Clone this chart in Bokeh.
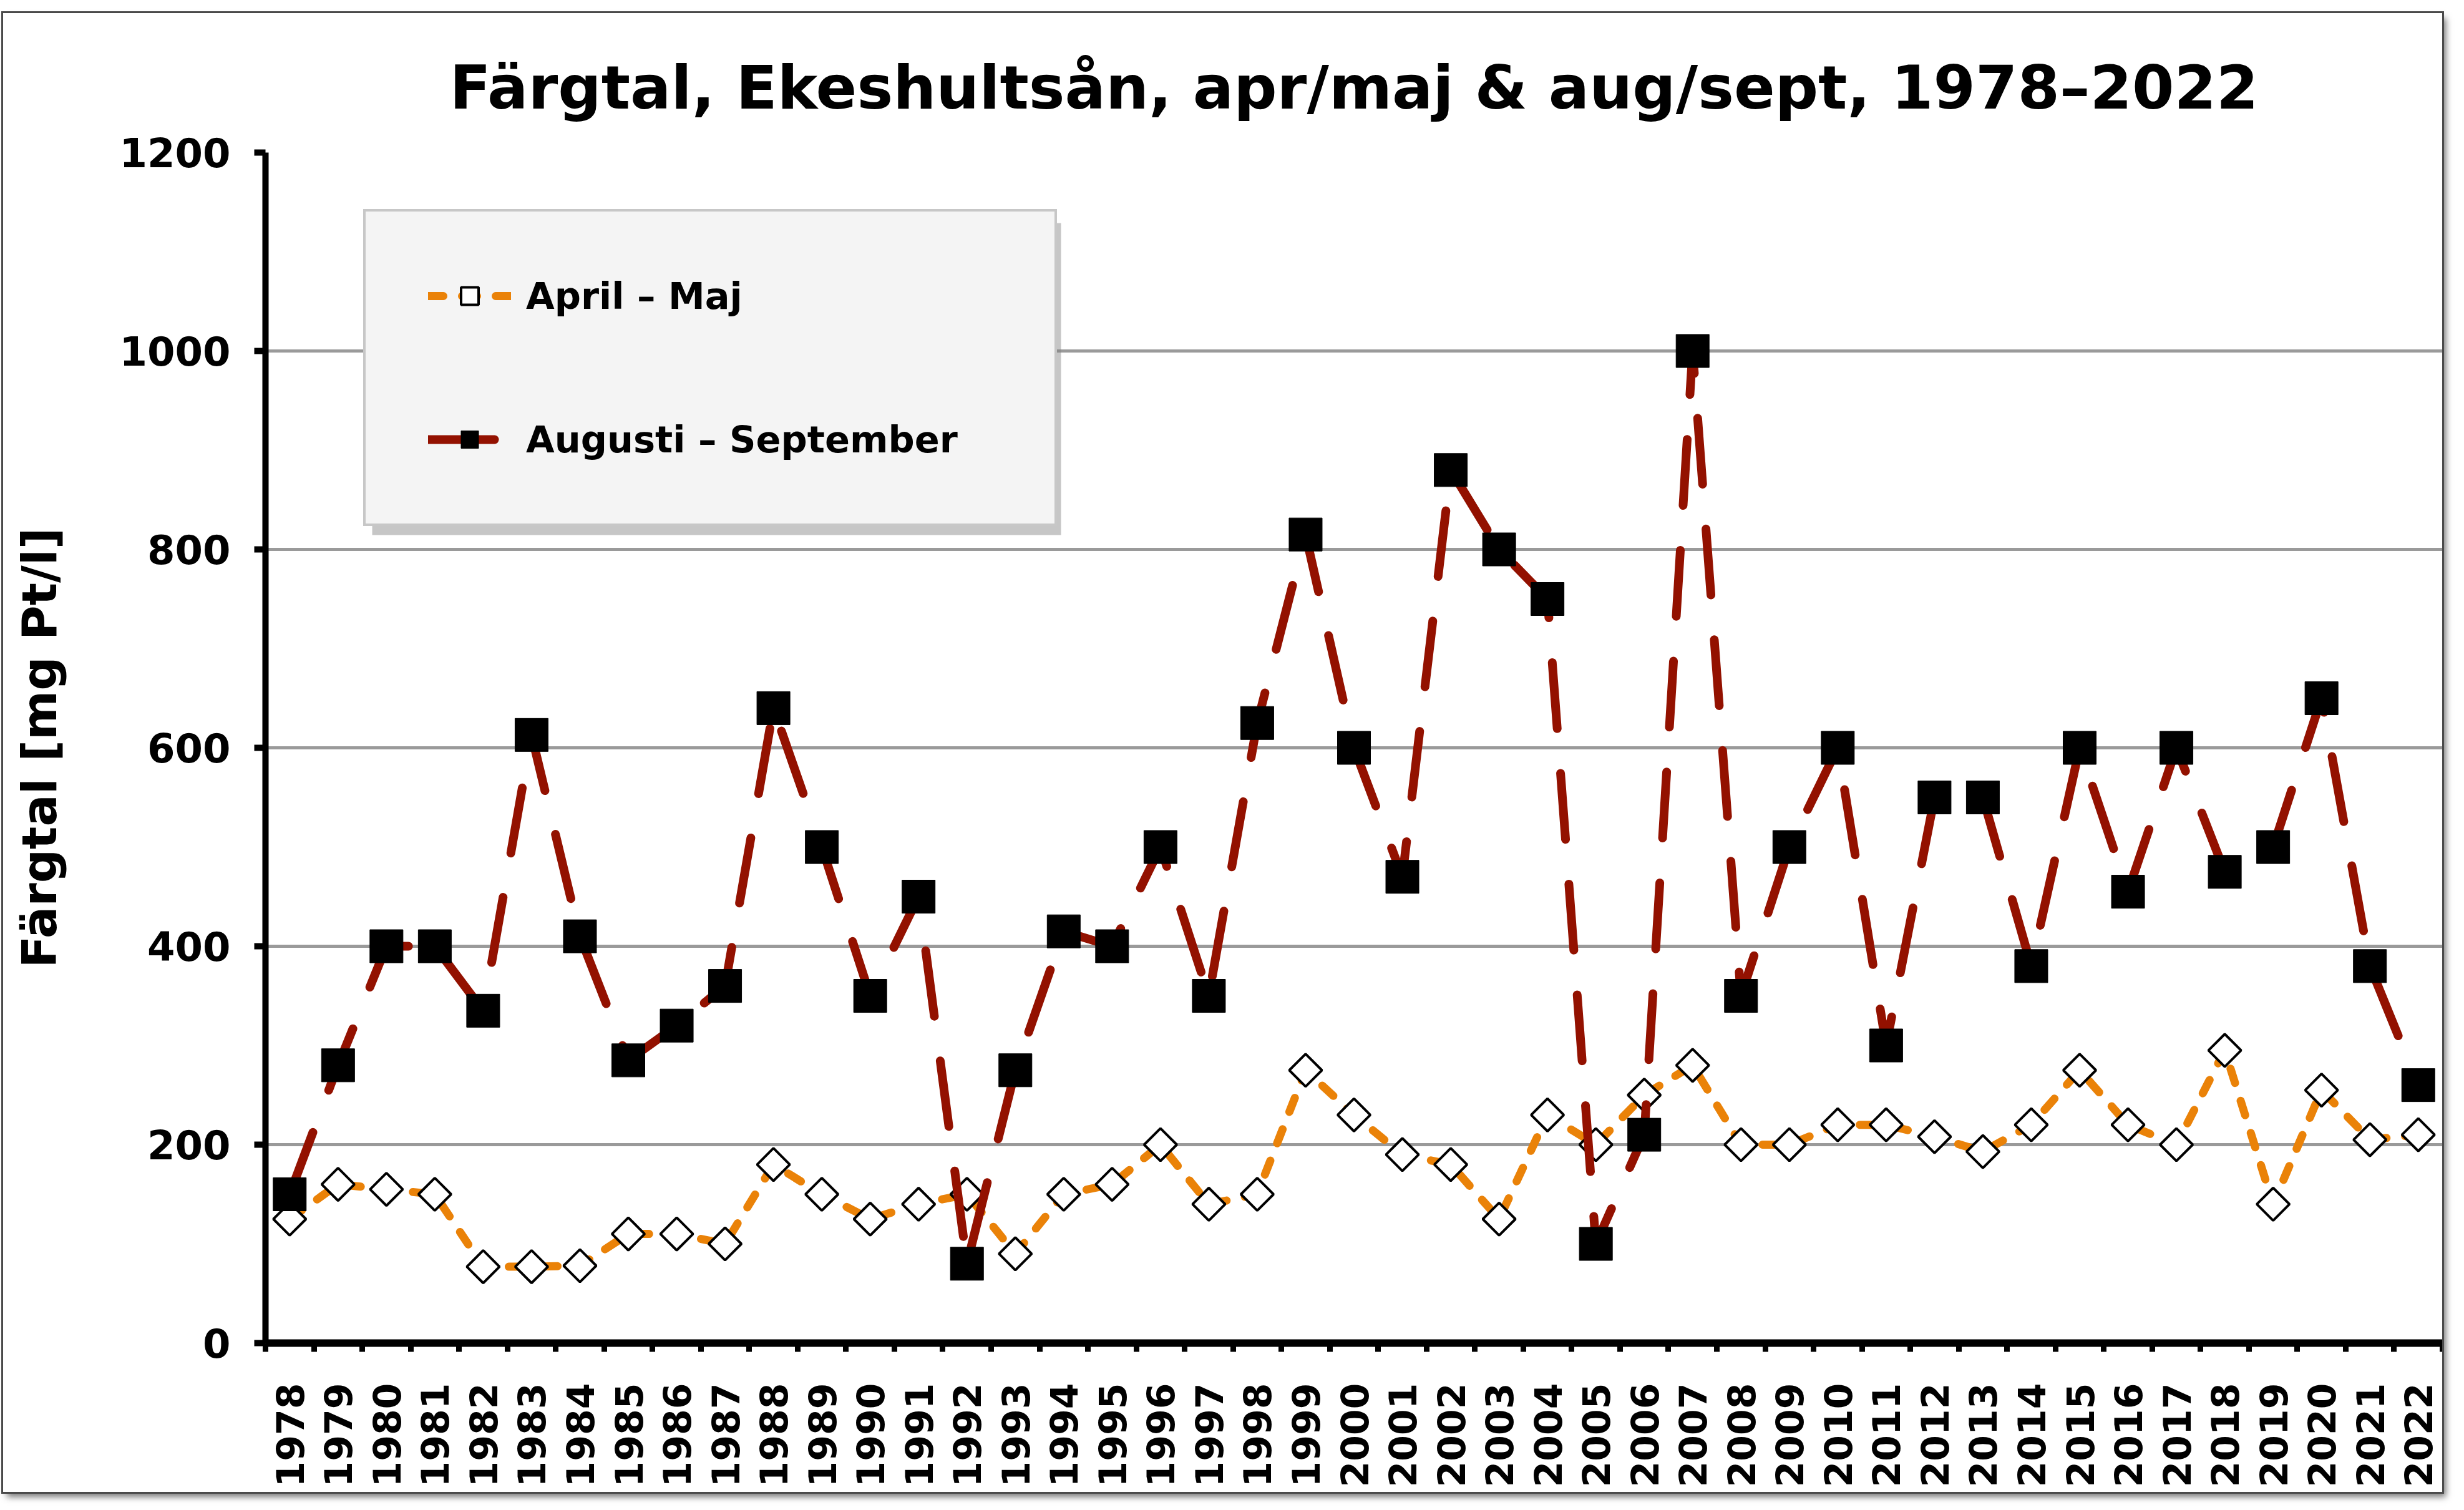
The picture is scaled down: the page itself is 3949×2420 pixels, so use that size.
from math import pi
from bokeh.plotting import figure
from bokeh.models import (Range1d, FixedTicker, PrintfTickFormatter, Legend, LegendItem,
                          BoxAnnotation, ColumnDataSource)
from bokeh.embed import file_html
from bokeh.resources import INLINE

# ---------------- data ----------------
years = list(range(1978, 2023))
apr_maj = [125, 160, 155, 150, 77, 77, 78, 110, 110, 100,
           180, 150, 125, 140, 150, 90, 150, 160, 200, 140,
           150, 275, 230, 190, 180, 125, 230, 200, 250, 280,
           200, 200, 220, 220, 208, 193, 220, 275, 220, 200,
           295, 140, 255, 205, 210]
aug_sep = [150, 280, 400, 400, 335, 613, 410, 285, 320, 360,
           640, 500, 350, 450, 80, 275, 415, 400, 500, 350,
           625, 815, 600, 470, 880, 800, 750, 100, 210, 1000,
           350, 500, 600, 300, 550, 550, 380, 600, 455, 600,
           475, 500, 650, 380, 260]
y_ticks = [0, 200, 400, 600, 800, 1000, 1200]
series_names = ["April – Maj", "Augusti – September"]
title_text = "Färgtal, Ekeshultsån, apr/maj & aug/sept, 1978–2022"
y_label = "Färgtal [mg Pt/l]"

FONT = "DejaVu Sans"

src = ColumnDataSource(dict(year=years, apr=apr_maj, aug=aug_sep))

p = figure(width=3909, height=2370, output_backend="svg", toolbar_location=None,
           x_range=Range1d(years[0] - 0.5, years[-1] + 0.5),
           y_range=Range1d(y_ticks[0], y_ticks[-1]),
           min_border_left=420, min_border_right=0, min_border_top=223, min_border_bottom=239)
p.margin = (21, 0, 0, 5)
p.styles = {"box-shadow": "0 0 0 3px #4a4a4a, 6px 8px 10px #777"}
p.background_fill_color = "white"
p.border_fill_color = "white"
p.outline_line_color = None

# title
p.title.text = title_text
p.title.align = "center"
p.title.text_font = FONT
p.title.text_font_style = "bold"
p.title.text_font_size = "97px"
p.title.text_color = "black"
p.title.standoff = 95
p.title.offset = -210

# grid
p.xgrid.visible = False
p.ygrid.grid_line_color = "#9a9a9a"
p.ygrid.grid_line_width = 5
p.ygrid.ticker = FixedTicker(ticks=y_ticks)

# x axis
boundaries = [y - 0.5 for y in years] + [years[-1] + 0.5]
xa = p.xaxis[0]
xa.ticker = FixedTicker(ticks=years, minor_ticks=boundaries)
xa.formatter = PrintfTickFormatter(format="%d")
xa.axis_line_width = 12
xa.axis_line_color = "black"
xa.major_tick_out = 0
xa.major_tick_in = 0
xa.minor_tick_out = 14
xa.minor_tick_in = 0
xa.minor_tick_line_width = 9
xa.minor_tick_line_color = "black"
xa.major_label_orientation = pi / 2
xa.major_label_text_font = FONT
xa.major_label_text_font_style = "bold"
xa.major_label_text_font_size = "60px"
xa.major_label_text_color = "black"
xa.major_label_standoff = 50

# y axis
ya = p.yaxis[0]
ya.ticker = FixedTicker(ticks=y_ticks)
ya.axis_line_width = 10
ya.axis_line_color = "black"
ya.major_tick_out = 18
ya.major_tick_in = 0
ya.major_tick_line_width = 10
ya.major_tick_line_color = "black"
ya.minor_tick_out = 0
ya.minor_tick_in = 0
ya.major_label_text_font = FONT
ya.major_label_text_font_style = "bold"
ya.major_label_text_font_size = "64px"
ya.major_label_text_color = "black"
ya.major_label_standoff = 38
ya.axis_label = y_label
ya.axis_label_text_font = FONT
ya.axis_label_text_font_style = "bold"
ya.axis_label_text_font_size = "76px"
ya.axis_label_text_color = "black"
ya.axis_label_standoff = 80

# series
l1 = p.line("year", "apr", source=src, line_color="#EA8208", line_width=13,
            line_dash="24 30", line_cap="round", line_join="round")
s1 = p.scatter("year", "apr", source=src, marker="square", angle=pi / 4, size=37,
               fill_color="white", line_color="black", line_width=4)
l2 = p.line("year", "aug", source=src, line_color="#931100", line_width=14,
            line_dash="106 72", line_cap="round", line_join="round")
s2 = p.scatter("year", "aug", source=src, marker="square", size=53,
               fill_color="black", line_color="black", line_width=1)

# legend shadow
p.add_layout(BoxAnnotation(left=171, right=1275, top=1795, bottom=1295,
                           left_units="screen", right_units="screen",
                           top_units="screen", bottom_units="screen",
                           fill_color="#808080", fill_alpha=0.45, line_color=None))

legend = Legend(items=[LegendItem(label=series_names[0], renderers=[l1, s1]),
                       LegendItem(label=series_names[1], renderers=[l2, s2])],
                location=(157, 1309))
legend.background_fill_color = "#f4f4f4"
legend.background_fill_alpha = 1
legend.border_line_color = "#999999"
legend.border_line_width = 4
legend.label_text_font = FONT
legend.label_text_font_style = "bold"
legend.label_text_font_size = "59px"
legend.label_text_color = "black"
legend.glyph_width = 133
legend.glyph_height = 70
legend.label_height = 70
legend.label_width = 747
legend.label_standoff = 24
legend.padding = 100
legend.spacing = 160
legend.margin = 0
p.add_layout(legend)

open("out.html", "w").write(file_html(p, INLINE))
